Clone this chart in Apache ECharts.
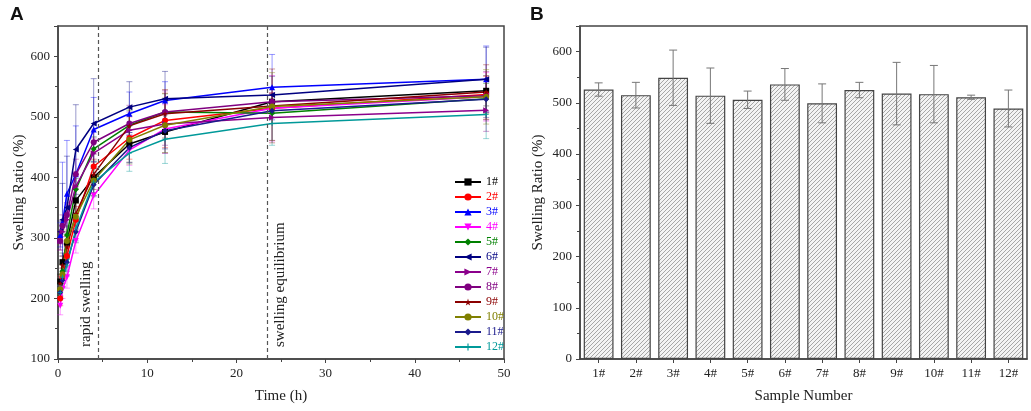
<!DOCTYPE html>
<html>
<head>
<meta charset="utf-8">
<script src="https://cdn.jsdelivr.net/npm/echarts/dist/echarts.min.js"></script>
<style>
    html, body { margin: 0; padding: 0; background: #fff; }
    #chart { width: 1031px; height: 411px; }
</style>
</head>
<body>
<div id="chart"></div>
<script>
// 数据
const times = [0.25, 0.5, 1, 2, 4, 8, 12, 24, 48];
const sampleNames = ['1#', '2#', '3#', '4#', '5#', '6#', '7#', '8#', '9#', '10#', '11#', '12#'];

// A: 溶胀比随时间变化
const s1  = [228, 260, 292, 362, 400, 455, 475, 525, 543];
const s2  = [200, 235, 270, 330, 418, 465, 494, 514, 537];
const s3  = [305, 325, 373, 405, 479, 505, 527, 549, 562];
const s4  = [188, 215, 235, 295, 370, 445, 480, 514, 533];
const s5  = [215, 245, 305, 380, 447, 486, 508, 506, 530];
const s6  = [310, 330, 350, 446, 489, 516, 530, 536, 562];
const s7  = [295, 310, 330, 385, 440, 478, 488, 499, 511];
const s8  = [295, 320, 338, 405, 458, 489, 508, 525, 535];
const s9  = [225, 255, 285, 340, 405, 485, 505, 518, 541];
const s10 = [215, 240, 295, 335, 395, 462, 486, 517, 533];
const s11 = [210, 230, 260, 310, 388, 449, 477, 510, 529];
const s12 = [210, 235, 255, 315, 392, 440, 463, 489, 504];

// A: 误差
const e1  = [12, 15, 18, 20, 25, 30, 35, 13, 25];
const e2  = [12, 15, 18, 22, 25, 35, 45, 25, 30];
const e3  = [20, 100, 88, 80, 53, 36, 31, 54, 55];
const e4  = [15, 15, 18, 20, 22, 25, 40, 54, 40];
const e5  = [10, 12, 15, 18, 20, 25, 30, 17, 25];
const e6  = [18, 60, 85, 74, 74, 42, 45, 31, 53];
const e7  = [15, 20, 22, 25, 25, 30, 35, 38, 35];
const e8  = [15, 18, 20, 25, 20, 30, 35, 15, 40];
const e9  = [12, 15, 18, 20, 25, 30, 40, 61, 45];
const e10 = [12, 15, 18, 22, 25, 40, 45, 56, 45];
const e11 = [10, 12, 15, 18, 20, 25, 30, 4, 30];
const e12 = [12, 15, 18, 20, 22, 30, 40, 36, 40];

// B: 平衡溶胀比
const equilibrium = [526, 515, 549, 514, 506, 536, 499, 525, 518, 517, 511, 489];
const equilibriumErr = [13, 25, 54, 54, 17, 31, 38, 15, 61, 56, 4, 36];

const yTicksA = { min: 100, max: 650, interval: 100 };
const xTicksA = { min: 0, max: 50, interval: 10 };
const yTicksB = { min: 0, max: 650, interval: 100 };

const allSeries = [s1, s2, s3, s4, s5, s6, s7, s8, s9, s10, s11, s12];
const allErrors = [e1, e2, e3, e4, e5, e6, e7, e8, e9, e10, e11, e12];

const colors = ['#000000', '#ff0000', '#0000ff', '#ff00ff', '#008000', '#000080',
    '#8b008b', '#800080', '#8b0000', '#808000', '#1a1a8c', '#009999'];

const STAR = 'path://M50,0 L61,35 L98,35 L68,57 L79,91 L50,70 L21,91 L32,57 L2,35 L39,35 Z';
const PLUS = 'path://M42,0 H58 V42 H100 V58 H58 V100 H42 V58 H0 V42 H42 Z';
const symbols = [
    ['rect', 0], ['circle', 0], ['triangle', 0], ['triangle', 180],
    ['diamond', 0], ['triangle', 90], ['triangle', -90], ['circle', 0],
    [STAR, 0], ['circle', 0], ['diamond', 0], [PLUS, 0]
];

const FONT = '"Liberation Serif", "DejaVu Serif", serif';
const AXIS_COLOR = '#444';

// 斜线填充图案
function makeHatch() {
    const c = document.createElement('canvas');
    c.width = 4; c.height = 4;
    const g = c.getContext('2d');
    g.fillStyle = '#f3f3f3';
    g.fillRect(0, 0, 4, 4);
    g.strokeStyle = '#a6a6a6';
    g.lineWidth = 1;
    g.beginPath();
    g.moveTo(0, 4); g.lineTo(4, 0);
    g.moveTo(-1, 1); g.lineTo(1, -1);
    g.moveTo(3, 5); g.lineTo(5, 3);
    g.stroke();
    return c;
}

function axisCommon() {
    return {
        axisLine: { show: true, lineStyle: { color: AXIS_COLOR, width: 1.5 } },
        axisTick: { show: true, length: 4, lineStyle: { color: AXIS_COLOR } },
        minorTick: { show: true, splitNumber: 2, length: 3, lineStyle: { color: AXIS_COLOR } },
        splitLine: { show: false },
        axisLabel: { color: '#222', fontFamily: FONT, fontSize: 13, showMaxLabel: false },
        nameTextStyle: { color: '#222', fontFamily: FONT, fontSize: 15 },
        nameLocation: 'middle'
    };
}

// 误差棒绘制
function errorBarRender(colorFn, capHalf, opacity) {
    return function (params, api) {
        const x = api.value(0);
        const lo = api.coord([x, api.value(1)]);
        const hi = api.coord([x, api.value(2)]);
        const color = colorFn(api.value(3));
        const style = { stroke: color, lineWidth: 1, opacity: opacity };
        return {
            type: 'group',
            children: [
                { type: 'line', shape: { x1: lo[0], y1: lo[1], x2: hi[0], y2: hi[1] }, style: style },
                { type: 'line', shape: { x1: lo[0] - capHalf, y1: lo[1], x2: lo[0] + capHalf, y2: lo[1] }, style: style },
                { type: 'line', shape: { x1: hi[0] - capHalf, y1: hi[1], x2: hi[0] + capHalf, y2: hi[1] }, style: style }
            ]
        };
    };
}

const lineSeries = allSeries.map((vals, k) => ({
    name: sampleNames[k],
    type: 'line',
    xAxisIndex: 0,
    yAxisIndex: 0,
    data: times.map((t, i) => [t, vals[i]]),
    symbol: symbols[k][0],
    symbolRotate: symbols[k][1],
    symbolSize: k === 11 ? 5 : 6,
    showSymbol: true,
    lineStyle: { width: 1.5, color: colors[k] },
    itemStyle: { color: colors[k] },
    z: 3,
    animation: false
}));

// 虚线与文字注释
lineSeries[0].markLine = {
    silent: true,
    symbol: 'none',
    lineStyle: { type: [4, 3], color: '#555', width: 1.2 },
    data: [
        {
            xAxis: 4.5,
            label: {
                show: true, formatter: 'rapid swelling', position: 'insideStartTop',
                distance: [12, 5], color: '#222', fontFamily: FONT, fontSize: 15
            }
        },
        {
            xAxis: 23.5,
            label: {
                show: true, formatter: 'swelling equilibrium', position: 'insideStartBottom',
                distance: [12, 5], color: '#222', fontFamily: FONT, fontSize: 15
            }
        }
    ]
};

const errDataA = [];
allSeries.forEach((vals, k) => {
    times.forEach((t, i) => {
        errDataA.push([t, vals[i] - allErrors[k][i], vals[i] + allErrors[k][i], k]);
    });
});

const errDataB = equilibrium.map((v, i) => [i, v - equilibriumErr[i], v + equilibriumErr[i], 0]);

const chart = echarts.init(document.getElementById('chart'));

chart.setOption({
    animation: false,
    backgroundColor: '#fff',
    title: [
        { text: 'A', left: 5, top: 0, textStyle: { fontFamily: '"Liberation Sans", Arial, sans-serif', fontSize: 19, fontWeight: 'bold', color: '#111' } },
        { text: 'B', left: 525, top: 0, textStyle: { fontFamily: '"Liberation Sans", Arial, sans-serif', fontSize: 19, fontWeight: 'bold', color: '#111' } }
    ],
    grid: [
        { left: 58, top: 26, width: 446, height: 333, show: true, borderColor: AXIS_COLOR, borderWidth: 1.5, backgroundColor: 'transparent' },
        { left: 580, top: 26, width: 447, height: 333, show: true, borderColor: AXIS_COLOR, borderWidth: 1.5, backgroundColor: 'transparent' }
    ],
    legend: {
        data: sampleNames.map((n, k) => ({ name: n, textStyle: { color: colors[k] } })),
        orient: 'vertical',
        left: 454,
        top: 176,
        itemWidth: 26,
        itemHeight: 9,
        itemGap: 3,
        textStyle: { fontFamily: FONT, fontSize: 12, lineHeight: 12 },
        padding: 0
    },
    xAxis: [
        Object.assign(axisCommon(), {
            type: 'value', gridIndex: 0,
            min: xTicksA.min, max: xTicksA.max, interval: xTicksA.interval,
            axisLabel: { color: '#222', fontFamily: FONT, fontSize: 13 },
            name: 'Time (h)', nameGap: 30
        }),
        Object.assign(axisCommon(), {
            type: 'category', gridIndex: 1,
            data: sampleNames,
            axisTick: { show: true, length: 4, alignWithLabel: true, lineStyle: { color: AXIS_COLOR } },
            minorTick: { show: false },
            axisLabel: { color: '#222', fontFamily: FONT, fontSize: 13 },
            name: 'Sample Number', nameGap: 30
        })
    ],
    yAxis: [
        Object.assign(axisCommon(), {
            type: 'value', gridIndex: 0,
            min: yTicksA.min, max: yTicksA.max, interval: yTicksA.interval,
            name: 'Swelling Ratio (%)', nameGap: 29
        }),
        Object.assign(axisCommon(), {
            type: 'value', gridIndex: 1,
            min: yTicksB.min, max: yTicksB.max, interval: yTicksB.interval,
            name: 'Swelling Ratio (%)', nameGap: 34
        })
    ],
    series: [
        {
            type: 'custom',
            xAxisIndex: 0,
            yAxisIndex: 0,
            data: errDataA,
            renderItem: errorBarRender(k => colors[k], 3, 0.4),
            silent: true,
            z: 2
        },
        ...lineSeries,
        {
            type: 'bar',
            xAxisIndex: 1,
            yAxisIndex: 1,
            data: equilibrium,
            barWidth: '80%',
            itemStyle: {
                color: { image: makeHatch(), repeat: 'repeat' },
                borderColor: '#444',
                borderWidth: 1.2
            },
            silent: true,
            z: 2
        },
        {
            type: 'custom',
            xAxisIndex: 1,
            yAxisIndex: 1,
            data: errDataB,
            renderItem: errorBarRender(() => '#777', 4, 1),
            silent: true,
            z: 4
        }
    ]
});
</script>
</body>
</html>
